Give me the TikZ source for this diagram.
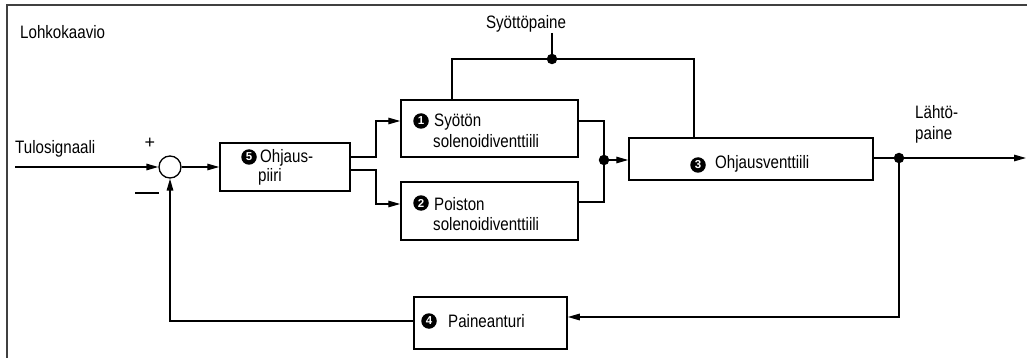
\documentclass[tikz,border=0pt]{standalone}
\usepackage{fontspec}
\newfontfamily\cf[FakeStretch=0.84]{Liberation Sans}
\newfontfamily\nf{Liberation Sans}
\usetikzlibrary{arrows.meta}
\begin{document}
\begin{tikzpicture}[x=1pt,y=-1pt,
  lbl/.style={font=\cf\fontsize{18}{21}\selectfont, inner sep=0pt, anchor=base west},
  blk/.style={draw, line width=1.5pt, rectangle, inner sep=0pt},
  con/.style={line width=1.4pt},
  arr/.style={con, -{Triangle[length=12pt,width=6.5pt]}},
  dot/.style={circle, fill=black, inner sep=0pt, minimum size=10.5pt},
  sumc/.style={circle, draw, line width=1.3pt, minimum size=22pt, inner sep=0pt},
  numc/.style={circle, fill=black, text=white, inner sep=0pt, minimum size=15.5pt, font=\nf\bfseries\fontsize{11.5}{11.5}\selectfont}]
\useasboundingbox (0,0) rectangle (1027,358);
% frame
\draw[line width=2pt, black!75] (7,358) -- (7,5) -- (1027,5);
% blocks
\node[blk, minimum width=130pt, minimum height=48pt] (b5) at (285,167) {};
\node[blk, minimum width=177pt, minimum height=57pt] (b1) at (489.5,128.5) {};
\node[blk, minimum width=177pt, minimum height=58pt] (b2) at (489.5,211) {};
\node[blk, minimum width=244pt, minimum height=42pt] (b3) at (751,159) {};
\node[blk, minimum width=153pt, minimum height=52pt] (b4) at (490.5,323) {};
\node[sumc] (sum) at (170,167) {};
\node[dot] (j1) at (604,160) {};
\node[dot] (j2) at (552,59) {};
\node[dot] (j3) at (899,158) {};
% numbers
\node[numc] (n5) at (249,157) {5};
\node[numc] (n1) at (421,121) {1};
\node[numc] (n2) at (421,203) {2};
\node[numc] (n3) at (698,165) {3};
\node[numc] (n4) at (429,321) {4};
% texts
\node[lbl] (t5a) at (260,163) {Ohjaus-};
\node[lbl] (t5b) at (258,182) {piiri};
\node[lbl] (t1a) at (434,127) {Syötön};
\node[lbl] (t1b) at (433,148) {solenoidiventtiili};
\node[lbl] (t2a) at (434,210) {Poiston};
\node[lbl] (t2b) at (433,230) {solenoidiventtiili};
\node[lbl] (t3) at (715,169) {Ohjausventtiili};
\node[lbl] (t4) at (448,327) {Paineanturi};
\node[lbl] (title) at (20,39) {Lohkokaavio};
\node[lbl] (tin) at (15,154) {Tulosignaali};
\node[lbl, anchor=base] (tsp) at (526,29) {Syöttöpaine};
\node[lbl] (tout1) at (915,119) {Lähtö-};
\node[lbl] (tout2) at (915,140) {paine};
\node[lbl, anchor=center, font=\nf\fontsize{18}{18}\selectfont] (plus) at (150,143) {+};
\node[inner sep=0pt] (minus) at (147,193) {\rule{24pt}{2.5pt}};
% coordinates
\coordinate (inp) at (15,167);
\coordinate (spt) at (552,33);
\coordinate (outp) at (1026,158);
% connectors
\draw[arr] (inp) -- (sum.west);
\draw[arr] (sum.east) -- (b5.west);
\draw[arr] (b5.east |- 0,157) -- (376,157) |- (b1.west |- 0,121);
\draw[arr] (b5.east |- 0,170) -- (376,170) |- (b2.west |- 0,204);
\draw[con] (b1.east |- 0,121) -| (j1);
\draw[con] (b2.east |- 0,202) -| (j1);
\draw[arr] (j1) -- (b3.west |- j1);
\draw[con] (spt) -- (j2);
\draw[con] (b1.north -| 452,0) |- (j2) -| (b3.north -| 694,0);
\draw[con] (b3.east |- j3) -- (j3);
\draw[arr] (j3) -- (outp);
\draw[arr] (j3) |- (b4.east |- 0,317);
\draw[arr] (b4.west |- 0,321) -| (sum.south);
\end{tikzpicture}
\end{document}
